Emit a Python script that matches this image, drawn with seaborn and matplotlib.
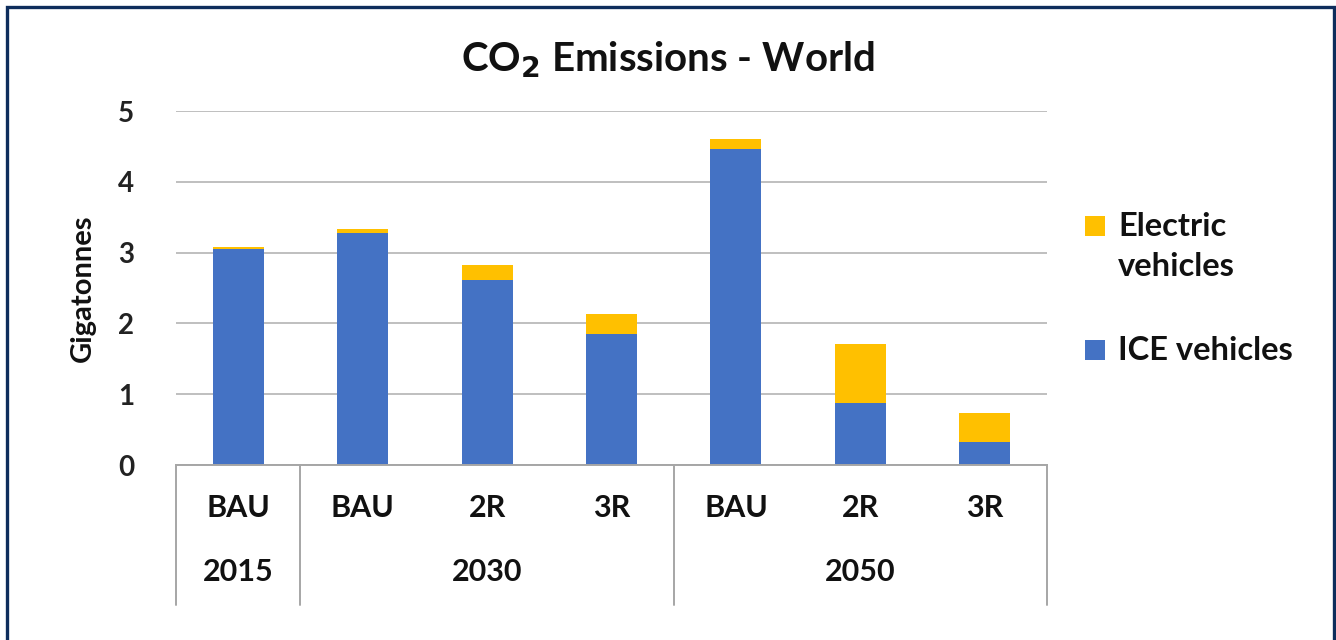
import matplotlib
matplotlib.use("Agg")
import matplotlib.pyplot as plt
import matplotlib.patches as mpatches
import matplotlib.transforms as mtransforms
import seaborn as sns
import pandas as pd
import numpy as np

# ---- data ----
years = ["2015", "2030", "2030", "2030", "2050", "2050", "2050"]
scenarios = ["BAU", "BAU", "2R", "3R", "BAU", "2R", "3R"]
ice = [3.05, 3.28, 2.61, 1.85, 4.46, 0.87, 0.32]
electric = [0.03, 0.05, 0.22, 0.28, 0.14, 0.84, 0.41]
year_groups = ["2015", "2030", "2050"]
yticks = [0, 1, 2, 3, 4, 5]
legend_labels = ["Electric\nvehicles", "ICE vehicles"]

BLUE = "#4472C4"
GOLD = "#FFC000"
NAVY = "#0E2D5C"
TXT = "#111111"

sns.set_theme(style="white")
plt.rcParams["font.family"] = ["Lato", "DejaVu Sans"]
plt.rcParams["font.weight"] = "bold"

df = pd.DataFrame({
    "cat": [f"{y} {s}" for y, s in zip(years, scenarios)],
    "ice": ice,
    "total": np.array(ice) + np.array(electric),
})

fig = plt.figure(figsize=(13.36, 6.4), dpi=100)
ax = fig.add_axes([176 / 1336, 1 - 465 / 640, (1047 - 176) / 1336, (465 - 111) / 640])

sns.barplot(data=df, x="cat", y="total", color=GOLD, saturation=1, width=0.41,
            linewidth=0, ax=ax, zorder=3)
sns.barplot(data=df, x="cat", y="ice", color=BLUE, saturation=1, width=0.41,
            linewidth=0, ax=ax, zorder=4)

ax.set_ylim(0, 5)
ax.set_xlim(-0.5, len(df) - 0.5)
ax.set_yticks(yticks)
ax.set_yticklabels([str(t) for t in yticks], fontsize=20, fontweight="bold", color="#222222")
ax.tick_params(axis="y", length=0, pad=30)
ax.grid(axis="y", color="#BFBFBF", linewidth=1.4, zorder=0)
ax.set_axisbelow(True)
for s in ["top", "right", "left"]:
    ax.spines[s].set_visible(False)
ax.spines["bottom"].set_color("#A6A6A6")
ax.spines["bottom"].set_linewidth(1.4)
ax.spines["bottom"].set_zorder(5)
ax.set_xticks([])
ax.set_xlabel("")
ax.set_ylabel("Gigatonnes", fontsize=21, fontweight="bold", labelpad=16, color=TXT)

trans = mtransforms.blended_transform_factory(ax.transData, ax.transAxes)
for i, s in enumerate(scenarios):
    ax.text(i, -0.122, s, transform=trans, ha="center", va="center",
            fontsize=22, fontweight="bold", color=TXT)
bounds = []
start = 0
for g in year_groups:
    n = years.count(g)
    bounds.append((start, start + n - 1))
    start += n
for g, (a, b) in zip(year_groups, bounds):
    ax.text((a + b) / 2, -0.303, g, transform=trans, ha="center", va="center",
            fontsize=22, fontweight="bold", color=TXT)
seps = [-0.5] + [b + 0.5 for _, b in bounds]
for xs in seps:
    ax.plot([xs, xs], [0, -0.395], transform=trans, color="#A6A6A6", lw=1.4, clip_on=False)

fig.text(0.5, 1 - 60 / 640, "CO$_\\mathbf{2}$ Emissions - World", ha="center", va="center",
         fontsize=29, fontweight="bold", color=TXT)

# legend (placed manually to mimic the original layout)
leg_colors = [GOLD, BLUE]
leg_y = [226, 350]
for lab, col, yy in zip(legend_labels, leg_colors, leg_y):
    fig.patches.append(mpatches.Rectangle((1085 / 1336, 1 - (yy + 10) / 640), 20 / 1336, 20 / 640,
                                          transform=fig.transFigure, facecolor=col,
                                          edgecolor="none"))
    fig.text(1118 / 1336, 1 - (yy - 14) / 640, lab, ha="left", va="top", fontsize=23.5,
             fontweight="bold", color=TXT, linespacing=1.45)

fig.patches.append(mpatches.Rectangle((7 / 1336, -0.02), (1334 - 7) / 1336, 1 - 7 / 640 + 0.02,
                                      transform=fig.transFigure, fill=False,
                                      edgecolor=NAVY, linewidth=2.4))

fig.savefig("out.png", dpi=100, facecolor="white")
